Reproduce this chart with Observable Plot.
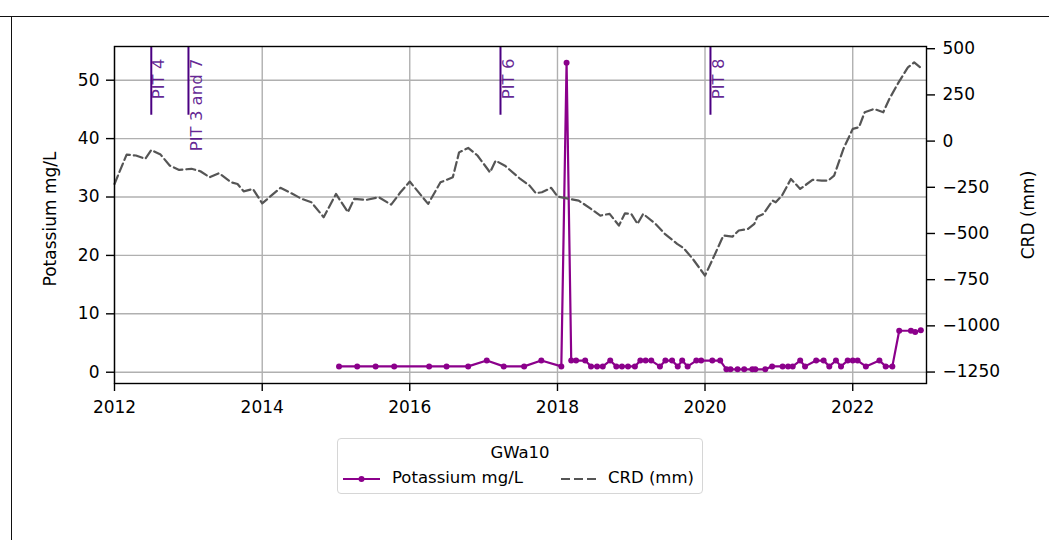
<!DOCTYPE html>
<html>
<head>
<meta charset="utf-8">
<script src="https://cdn.jsdelivr.net/npm/d3@7"></script>
<script src="https://cdn.jsdelivr.net/npm/@observablehq/plot@0.6"></script>
<style>
  html, body { margin: 0; padding: 0; background: #fff; }
  #wrap { position: relative; width: 1049px; height: 540px; overflow: hidden; font-family: "DejaVu Sans", sans-serif; }
  #chart { position: absolute; left: 0; top: 0; }
  .hline { position: absolute; left: 0; top: 16px; width: 1049px; height: 0; border-top: 1.5px solid #111; }
  .vline { position: absolute; left: 11px; top: 16px; width: 0; height: 524px; border-left: 1.5px solid #111; }
  #legend { position: absolute; left: 337px; top: 438px; width: 366px; height: 56px; box-sizing: border-box;
            border: 1.5px solid #d6d6d6; border-radius: 4px; background: #fff; font-size: 16.5px; color: #000; }
  #legend .title { position: absolute; left: 0; width: 100%; top: 4px; text-align: center; }
  #legend .item { position: absolute; top: 29px; white-space: nowrap; }
  #legend svg { position: absolute; top: 0; left: 0; }
</style>
</head>
<body>
<div id="wrap">
  <div class="hline"></div>
  <div class="vline"></div>
  <div id="chart"></div>
  <div id="legend">
    <svg width="366" height="56">
      <line x1="5" x2="42" y1="40" y2="40" stroke="#8b008b" stroke-width="2.2"></line>
      <circle cx="23.5" cy="40" r="3" fill="#8b008b"></circle>
      <line x1="223" x2="258" y1="40" y2="40" stroke="#555" stroke-width="2.2" stroke-dasharray="9,4"></line>
    </svg>
    <div class="title">GWa10</div>
    <div class="item" style="left:54px">Potassium mg/L</div>
    <div class="item" style="left:270px">CRD (mm)</div>
  </div>
</div>
<script>
// ---- Data ----
const potDates = ["2015-01-16","2015-04-16","2015-07-16","2015-10-16","2016-04-06","2016-07-01","2016-10-16",
  "2017-01-16","2017-04-10","2017-07-20","2017-10-13","2018-01-20","2018-02-15","2018-03-10","2018-04-03",
  "2018-05-18","2018-06-16","2018-07-16","2018-08-13","2018-09-19","2018-10-19","2018-11-16","2018-12-16",
  "2019-01-19","2019-02-15","2019-03-13","2019-04-10","2019-05-23","2019-06-19","2019-07-22","2019-08-19",
  "2019-09-10","2019-10-07","2019-11-19","2019-12-13","2020-02-06","2020-03-16","2020-04-16","2020-05-06",
  "2020-06-10","2020-07-13","2020-08-22","2020-09-06","2020-10-25","2020-11-28","2021-01-19","2021-02-15",
  "2021-03-10","2021-04-16","2021-05-10","2021-07-04","2021-08-10","2021-09-07","2021-10-10","2021-11-04",
  "2021-12-07","2022-01-01","2022-01-25","2022-03-07","2022-05-13","2022-06-13","2022-07-16","2022-08-19",
  "2022-10-16","2022-11-06","2022-12-04"];
const potValues = [1,1,1,1,1,1,1,
  2,1,1,2,1,53,2,2,
  2,1,1,1,2,1,1,1,
  1,2,2,2,1,2,2,1,
  2,1,2,2,2,2,0.5,0.5,
  0.5,0.5,0.5,0.5,0.5,1,1,1,
  1,2,1,2,2,1,2,1,
  2,2,2,1,2,1,1,7.1,
  7.1,6.9,7.2];

const crdDates = ["2012-01-01","2012-03-01","2012-04-16","2012-06-01","2012-07-01","2012-08-16","2012-10-01",
  "2012-11-16","2013-01-16","2013-03-01","2013-04-16","2013-06-01","2013-08-01","2013-09-01","2013-10-01",
  "2013-11-16","2014-01-01","2014-04-01","2014-05-16","2014-07-16","2014-09-01","2014-11-01","2015-01-01",
  "2015-03-01","2015-04-01","2015-06-01","2015-08-01","2015-10-01","2015-11-16","2016-01-01","2016-04-01",
  "2016-06-01","2016-08-01","2016-09-01","2016-10-16","2016-12-01","2017-02-01","2017-03-01","2017-04-16",
  "2017-07-01","2017-08-16","2017-09-16","2017-10-16","2017-12-01","2018-01-01","2018-03-01","2018-04-16",
  "2018-06-16","2018-08-01","2018-09-16","2018-11-01","2018-12-01","2019-01-01","2019-02-01","2019-03-01",
  "2019-05-01","2019-06-16","2019-08-16","2019-09-16","2019-11-01","2020-01-01","2020-02-16","2020-04-01",
  "2020-05-16","2020-06-16","2020-08-01","2020-09-01","2020-09-16","2020-10-16","2020-12-01","2020-12-16",
  "2021-01-16","2021-03-01","2021-04-16","2021-06-16","2021-08-01","2021-09-01","2021-10-01","2021-11-16",
  "2022-01-01","2022-02-01","2022-03-01","2022-04-16","2022-06-01","2022-07-01","2022-08-16","2022-10-01",
  "2022-11-01","2022-12-01"];
const crdValues = [-232,-73,-78,-96,-48,-73,-133,
  -156,-150,-163,-196,-174,-223,-232,-272,
  -259,-337,-253,-277,-313,-331,-412,-286,
  -385,-313,-318,-304,-344,-277,-219,-340,
  -223,-196,-61,-37,-78,-169,-106,-133,
  -205,-241,-282,-277,-253,-300,-313,-322,
  -367,-403,-394,-457,-391,-394,-448,-394,
  -448,-502,-556,-578,-637,-728,-620,-511,
  -517,-484,-475,-448,-409,-394,-322,-331,
  -295,-205,-259,-210,-214,-214,-187,-42,
  66,75,156,174,156,228,318,399,
  426,399];

const pitDates = ["2012-07-01","2013-01-01","2017-03-25","2020-01-28"];
const pitLabels = ["PIT 4","PIT 3 and 7","PIT 6","PIT 8"];

const xTickYears = [2012,2014,2016,2018,2020,2022];
const leftTicks = [0,10,20,30,40,50];
const rightTicks = [-1250,-1000,-750,-500,-250,0,250,500];

// ---- Scales / tables ----
const yDomain = [-1.93, 55.77];
const crdDomain = [-1312, 512];
const crdToY = d3.scaleLinear().domain(crdDomain).range(yDomain);

const pot = potDates.map((d,i) => ({date: new Date(d), value: potValues[i]}));
const crd = crdDates.map((d,i) => ({date: new Date(d), value: crdValues[i]}));
const pits = pitDates.map((d,i) => ({date: new Date(d), label: pitLabels[i]}));
const xTicks = xTickYears.map(y => new Date(Date.UTC(y,0,1)));

const fmtMinus = v => { v = Math.round(v); return v < 0 ? "\u2212" + (-v) : String(v); };

const chart = Plot.plot({
  width: 1049,
  height: 430,
  marginLeft: 114,
  marginRight: 123,
  marginTop: 46,
  marginBottom: 47,
  x: {type: "utc", domain: [new Date("2012-01-01"), new Date("2023-01-01")]},
  y: {domain: yDomain},
  style: {fontFamily: "DejaVu Sans, sans-serif", fontSize: "17px", color: "#000", background: "transparent"},
  marks: [
    Plot.gridX(xTicks, {stroke: "#b0b0b0", strokeOpacity: 1, strokeWidth: 1.4}),
    Plot.gridY(leftTicks, {stroke: "#b0b0b0", strokeOpacity: 1, strokeWidth: 1.4}),
    Plot.line(pot, {x: "date", y: "value", stroke: "#8b008b", strokeWidth: 2.2}),
    Plot.dot(pot, {x: "date", y: "value", r: 3, fill: "#8b008b"}),
    Plot.line(crd, {x: "date", y: d => crdToY(d.value), stroke: "#555", strokeWidth: 2.2, strokeDasharray: "9,4"}),
    Plot.ruleX(pits, {x: "date", y1: 44, y2: yDomain[1], stroke: "#4b0082", strokeWidth: 2}),
    Plot.text(pits, {x: "date", y: 53.7, text: "label", rotate: -90, textAnchor: "end", lineAnchor: "top",
      dx: 1.5, fill: "#4b0082", fillOpacity: 0.85, fontSize: 16.5}),
    Plot.frame({stroke: "#000", strokeWidth: 1.4}),
    Plot.axisX(xTicks, {tickFormat: d => String(d.getUTCFullYear()), tickSize: 8, tickPadding: 9, strokeWidth: 1.4, label: null}),
    Plot.axisY(leftTicks, {anchor: "left", tickSize: 8, tickPadding: 7, strokeWidth: 1.4, label: null}),
    Plot.axisY(rightTicks.map(v => crdToY(v)), {anchor: "right", tickSize: 8, tickPadding: 8, strokeWidth: 1.4,
      tickFormat: d => fmtMinus(crdToY.invert(d)), label: null}),
    Plot.text(["Potassium mg/L"], {frameAnchor: "left", text: d => d, dx: -64, dy: 4, rotate: -90,
      textAnchor: "middle", lineAnchor: "middle", fontSize: 17, fill: "#000"}),
    Plot.text(["CRD (mm)"], {frameAnchor: "right", text: d => d, dx: 102, rotate: -90,
      textAnchor: "middle", lineAnchor: "middle", fontSize: 17, fill: "#000"})
  ]
});
document.getElementById("chart").appendChild(chart);
</script>
</body>
</html>
